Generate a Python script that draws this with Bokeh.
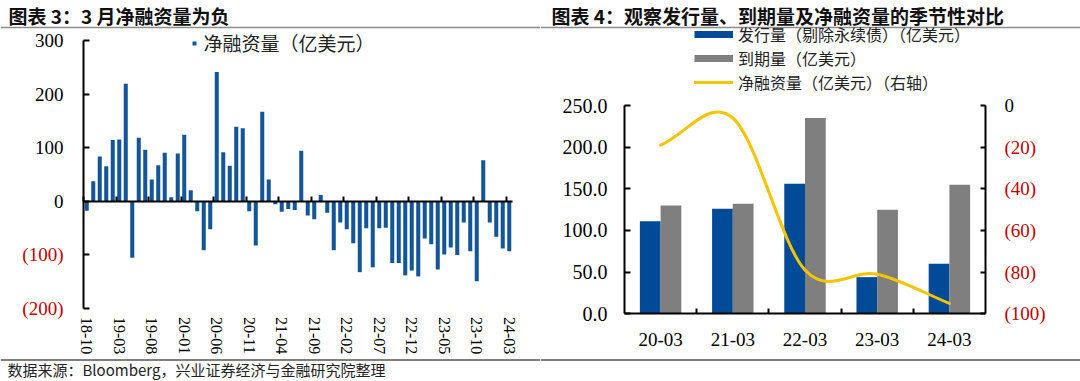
import math
from bokeh.plotting import figure
from bokeh.models import (Range1d, LinearAxis, FixedTicker, NumeralTickFormatter, Label,
                          Legend, LegendItem, Span, ColumnDataSource)
from bokeh.layouts import row
from bokeh.transform import dodge
from bokeh.embed import file_html
from bokeh.resources import INLINE

# ---------------- data: chart 3 (monthly net financing, 100m USD) ----------------
months = ["18-10", "18-11", "18-12",
          "19-01", "19-02", "19-03", "19-04", "19-05", "19-06", "19-07", "19-08", "19-09", "19-10", "19-11", "19-12",
          "20-01", "20-02", "20-03", "20-04", "20-05", "20-06", "20-07", "20-08", "20-09", "20-10", "20-11", "20-12",
          "21-01", "21-02", "21-03", "21-04", "21-05", "21-06", "21-07", "21-08", "21-09", "21-10", "21-11", "21-12",
          "22-01", "22-02", "22-03", "22-04", "22-05", "22-06", "22-07", "22-08", "22-09", "22-10", "22-11", "22-12",
          "23-01", "23-02", "23-03", "23-04", "23-05", "23-06", "23-07", "23-08", "23-09", "23-10", "23-11", "23-12",
          "24-01", "24-02", "24-03"]
net_flow = [-18, 37, 83, 65, 114, 115, 219, -106, 118, 96, 40, 67, 90, 7, 89, 124, 20, -19, -92, -53,
            241, 91, 66, 139, 136, -19, -83, 167, 40, -6, -20, -15, -17, 94, -27, -34, 11, -22, -92, -40,
            -53, -79, -133, -51, -124, -51, -50, -116, -116, -139, -130, -141, -70, -81, -128, -100, -87, -101, -40, -94,
            -150, 76, -40, -67, -89, -94]
y1_ticks = [-200, -100, 0, 100, 200, 300]

# ---------------- data: chart 4 (March comparison) ----------------
periods = ["20-03", "21-03", "22-03", "23-03", "24-03"]
issuance = [111, 126, 156, 44, 60]
maturity = [130, 132, 235, 125, 155]
net_march = [-19, -6, -79, -81, -95]
y2_ticks = [0, 50, 100, 150, 200, 250]
y3_ticks = [-100, -80, -60, -40, -20, 0]

SERIF = "Liberation Serif"
CJK = "Noto Sans CJK SC"
BLUE1 = "#125598"
BLUE2 = "#004A97"
GRAY = "#7F7F7F"
YELLOW = "#F5C400"
RED = "#C00000"
W, H = 540, 381   # each panel's canvas
NAN = float("nan")


def lin(p, p0, d0, p1, d1):
    """map a pixel position to data space given two reference points"""
    return d0 + (p - p0) * (d1 - d0) / (p1 - p0)


def make_fig(xr, yr):
    p = figure(frame_width=W, frame_height=H, min_border=0, x_range=xr, y_range=yr,
               x_axis_type=None, y_axis_type=None,
               output_backend="svg", toolbar_location=None)
    p.title.visible = False
    p.outline_line_color = None
    p.background_fill_color = "white"
    p.border_fill_color = "white"
    return p

# =============================== left chart ===============================
n1 = len(net_flow)
# plot area in canvas pixels: x 83..512 for 0..n1, y 40 (300) .. 307.5 (-200)
X1 = lambda px: lin(px, 83, 0, 512, n1)
Y1 = lambda py: lin(py, 40, y1_ticks[-1], 307.5, y1_ticks[0])
p1 = make_fig(Range1d(X1(0), X1(W)), Range1d(Y1(H), Y1(0)))

src1 = ColumnDataSource(dict(x=[i + 0.5 for i in range(n1)], v=net_flow))
bars1 = p1.vbar(x="x", top="v", bottom=0, width=0.62, source=src1, fill_color=BLUE1, line_color=None)

yax1 = LinearAxis(ticker=FixedTicker(ticks=y1_ticks, minor_ticks=[]), fixed_location=0,
                  bounds=(y1_ticks[0], y1_ticks[-1]),
                  major_label_overrides={t: "" for t in y1_ticks if t < 0},
                  axis_line_width=2, axis_line_color="black",
                  major_tick_in=6, major_tick_out=0, major_tick_line_width=2,
                  minor_tick_line_color=None, major_label_standoff=20,
                  major_label_text_font=SERIF, major_label_text_font_size="19px",
                  major_label_text_color="black")
p1.add_layout(yax1, "left")
neg1 = [t for t in y1_ticks if t < 0]
yax1r = LinearAxis(ticker=FixedTicker(ticks=neg1, minor_ticks=[]), fixed_location=0,
                   major_label_overrides={t: "(%d)" % (-t) for t in neg1},
                   axis_line_color=None, major_tick_line_color=None, minor_tick_line_color=None,
                   major_tick_in=0, major_tick_out=0, major_label_standoff=20,
                   major_label_text_font=SERIF, major_label_text_font_size="19px",
                   major_label_text_color=RED)
p1.add_layout(yax1r, "left")

# zero line with ticks at category boundaries every 5 months
bnd = list(range(0, n1, 5))
zax = LinearAxis(ticker=FixedTicker(ticks=bnd, minor_ticks=[]), fixed_location=0, bounds=(0, n1),
                 major_label_overrides={b: "" for b in bnd},
                 axis_line_width=2, axis_line_color="black",
                 major_tick_in=5, major_tick_out=0, major_tick_line_width=2,
                 minor_tick_line_color=None)
p1.add_layout(zax, "below")

lab_pos = [i + 0.5 for i in range(0, n1, 5)]
lax = LinearAxis(ticker=FixedTicker(ticks=lab_pos, minor_ticks=[]), fixed_location=y1_ticks[0],
                 major_label_overrides={i + 0.5: months[i] for i in range(0, n1, 5)},
                 major_label_orientation=-math.pi / 2,
                 axis_line_color=None, major_tick_line_color=None, minor_tick_line_color=None,
                 major_tick_in=0, major_tick_out=0, major_label_standoff=9,
                 major_label_text_font=SERIF, major_label_text_font_size="16px",
                 major_label_text_color="black")
p1.add_layout(lax, "below")

dummy_sq = p1.scatter(x=[NAN], y=[NAN], marker="square", size=8, fill_color=BLUE1, line_color=None)
leg1 = Legend(items=[LegendItem(label="净融资量（亿美元）", renderers=[dummy_sq])],
              location=(188.5, H - 56), glyph_width=10, glyph_height=20, label_height=20,
              label_standoff=5, spacing=0, padding=0, margin=0,
              border_line_color=None, background_fill_alpha=0,
              label_text_font=CJK, label_text_font_size="19px", label_text_color="#222222")
p1.add_layout(leg1)

p1.add_layout(Label(x=X1(8), y=Y1(15), text="图表 3：3 月净融资量为负",
                    text_align="left", text_baseline="middle", text_font=CJK,
                    text_font_size="19px", text_font_style="bold", text_color="#111111"))
p1.add_layout(Span(location=Y1(27), dimension="width", line_color="#8C8C8C", line_width=1.5))
p1.add_layout(Span(location=Y1(359.5), dimension="width", line_color="#555555", line_width=1.5))
p1.add_layout(Label(x=X1(7), y=Y1(369),
                    text="数据来源：Bloomberg，兴业证券经济与金融研究院整理",
                    text_align="left", text_baseline="middle", text_font=CJK,
                    text_font_size="15px", text_color="#222222"))

# =============================== right chart ===============================
n2 = len(periods)
# plot area (panel canvas px): x 84..445 for 0..n2, y 105 (top value) .. 313.3 (0)
X2 = lambda px: lin(px, 84, 0, 445, n2)
Y2 = lambda py: lin(py, 105, y2_ticks[-1], 313.3, y2_ticks[0])
Y3 = lambda py: lin(py, 105, y3_ticks[-1], 313.3, y3_ticks[0])
p2 = make_fig(Range1d(X2(0), X2(W)), Range1d(Y2(H), Y2(0)))
p2.extra_y_ranges = {"net": Range1d(Y3(H), Y3(0))}

xc = [i + 0.5 for i in range(n2)]
src2 = ColumnDataSource(dict(x=xc, iss=issuance, mat=maturity))
bw = 0.287
p2.vbar(x=dodge("x", -bw / 2), top="iss", width=bw, source=src2, fill_color=BLUE2, line_color=None)
p2.vbar(x=dodge("x", bw / 2), top="mat", width=bw, source=src2, fill_color=GRAY, line_color=None)


def tang(i):
    if i == 0:
        return xc[1] - xc[0], net_march[1] - net_march[0]
    if i == n2 - 1:
        return xc[-1] - xc[-2], net_march[-1] - net_march[-2]
    return (xc[i + 1] - xc[i - 1]) / 2, (net_march[i + 1] - net_march[i - 1]) / 2


bz = dict(x0=[], y0=[], x1=[], y1=[], cx0=[], cy0=[], cx1=[], cy1=[])
for i in range(n2 - 1):
    t0, t1 = tang(i), tang(i + 1)
    bz["x0"].append(xc[i]); bz["y0"].append(net_march[i])
    bz["x1"].append(xc[i + 1]); bz["y1"].append(net_march[i + 1])
    bz["cx0"].append(xc[i] + t0[0] / 3); bz["cy0"].append(net_march[i] + t0[1] / 3)
    bz["cx1"].append(xc[i + 1] - t1[0] / 3); bz["cy1"].append(net_march[i + 1] - t1[1] / 3)
line_r = p2.bezier(x0="x0", y0="y0", x1="x1", y1="y1", cx0="cx0", cy0="cy0", cx1="cx1", cy1="cy1",
                   source=ColumnDataSource(bz), line_color=YELLOW, line_width=3, line_cap="round",
                   y_range_name="net")

yax2 = LinearAxis(ticker=FixedTicker(ticks=y2_ticks, minor_ticks=[]), fixed_location=0,
                  bounds=(y2_ticks[0], y2_ticks[-1]),
                  formatter=NumeralTickFormatter(format="0.0"),
                  axis_line_width=2, axis_line_color="black",
                  major_tick_in=6, major_tick_out=0, major_tick_line_width=2,
                  minor_tick_line_color=None, major_label_standoff=17,
                  major_label_text_font=SERIF, major_label_text_font_size="20px",
                  major_label_text_color="black")
p2.add_layout(yax2, "left")

yax3 = LinearAxis(y_range_name="net", ticker=FixedTicker(ticks=y3_ticks, minor_ticks=[]),
                  fixed_location=n2, bounds=(y3_ticks[0], y3_ticks[-1]),
                  major_label_overrides={t: ("(%d)" % (-t) if t < 0 else "") for t in y3_ticks},
                  axis_line_width=2, axis_line_color="black",
                  major_tick_in=5, major_tick_out=0, major_tick_line_width=2,
                  minor_tick_line_color=None, major_label_standoff=19,
                  major_label_text_font=SERIF, major_label_text_font_size="19px",
                  major_label_text_color=RED)
p2.add_layout(yax3, "right")
zero3 = [t for t in y3_ticks if t >= 0]
yax3b = LinearAxis(y_range_name="net", ticker=FixedTicker(ticks=zero3, minor_ticks=[]),
                   fixed_location=n2, axis_line_color=None, major_tick_line_color=None,
                   minor_tick_line_color=None, major_tick_in=0, major_tick_out=0,
                   major_label_standoff=19,
                   major_label_text_font=SERIF, major_label_text_font_size="19px",
                   major_label_text_color="black")
p2.add_layout(yax3b, "right")

xax2 = LinearAxis(ticker=FixedTicker(ticks=xc, minor_ticks=list(range(1, n2))),
                  fixed_location=0, bounds=(0, n2),
                  major_label_overrides={xc[i]: periods[i] for i in range(n2)},
                  axis_line_width=2, axis_line_color="black",
                  major_tick_in=0, major_tick_out=0, minor_tick_in=5, minor_tick_out=0,
                  minor_tick_line_width=2, minor_tick_line_color="black",
                  major_label_standoff=19,
                  major_label_text_font=SERIF, major_label_text_font_size="19px",
                  major_label_text_color="black")
p2.add_layout(xax2, "below")

d_iss = p2.line(x=[NAN], y=[NAN], line_color=BLUE2, line_width=7)
d_mat = p2.line(x=[NAN], y=[NAN], line_color=GRAY, line_width=7)
leg2 = Legend(items=[LegendItem(label="发行量（剔除永续债）（亿美元）", renderers=[d_iss]),
                     LegendItem(label="到期量（亿美元）", renderers=[d_mat]),
                     LegendItem(label="净融资量（亿美元）（右轴）", renderers=[line_r])],
              location=(154, H - 94.3), glyph_width=39, glyph_height=18, label_height=18,
              label_standoff=5, spacing=0, padding=0, margin=0,
              border_line_color=None, background_fill_alpha=0,
              label_text_font=CJK, label_text_font_size="16px", label_text_color="#222222")
p2.add_layout(leg2)

p2.add_layout(Label(x=X2(11), y=Y2(15),
                    text="图表 4：观察发行量、到期量及净融资量的季节性对比",
                    text_align="left", text_baseline="middle", text_font=CJK,
                    text_font_size="19px", text_font_style="bold", text_color="#111111"))
p2.add_layout(Span(location=Y2(27), dimension="width", line_color="#8C8C8C", line_width=1.5))
p2.add_layout(Span(location=Y2(359.5), dimension="width", line_color="#555555", line_width=1.5))

layout = row(p1, p2)
open("out.html", "w").write(file_html(layout, INLINE))
